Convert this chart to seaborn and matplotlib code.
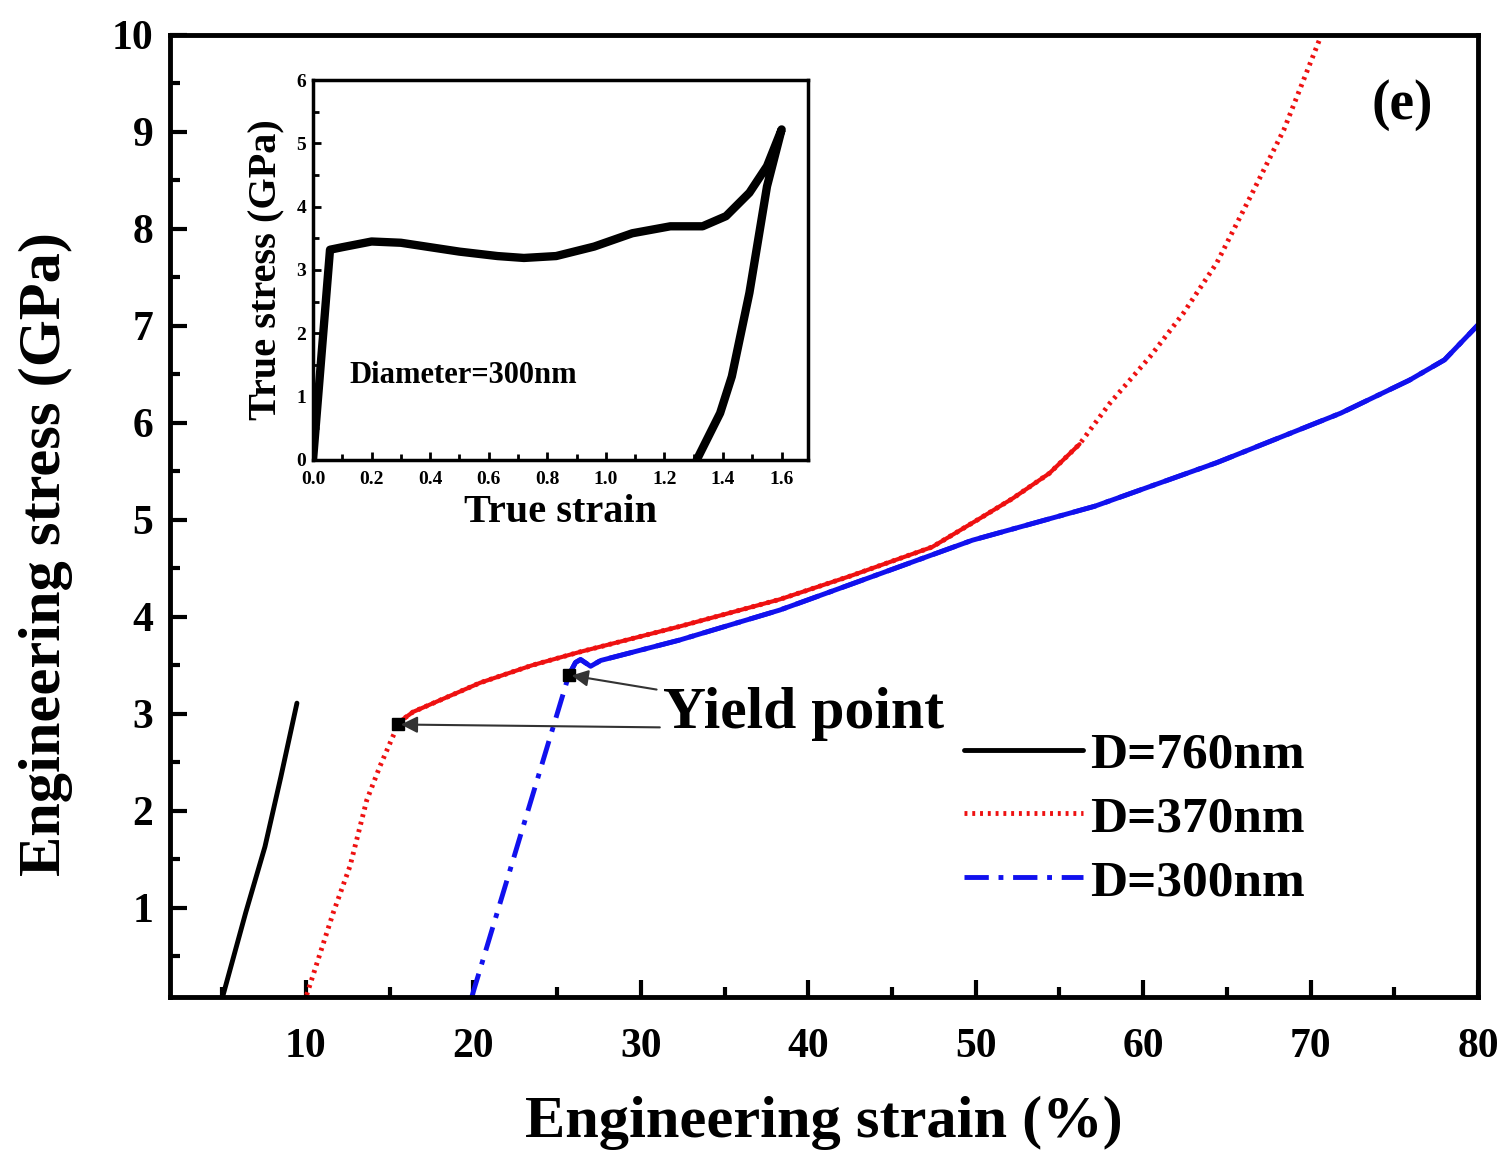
import numpy as np
import pandas as pd
import matplotlib
matplotlib.use("Agg")
import matplotlib.pyplot as plt
from matplotlib.ticker import MultipleLocator, FormatStrFormatter
import seaborn as sns

# ---- data ----
strain_760 = [5.05, 6.4, 7.55, 8.5, 9.46]
stress_760 = [0.10, 0.95, 1.63, 2.35, 3.11]

strain_370 = [10.04, 11.63, 12.63, 13.63, 14.42, 15.2, 15.6, 16.4, 17.6, 20.4, 23.5, 26.4,
              32.3, 38.3, 42.5, 47.4, 50.3, 52.2, 54.4, 56.2, 58.0, 60.4, 62.4, 64.4,
              66.4, 68.4, 70.6]
stress_370 = [0.10, 0.95, 1.43, 2.11, 2.46, 2.77, 2.92, 3.02, 3.11, 3.32, 3.50, 3.64,
              3.90, 4.18, 4.42, 4.72, 5.02, 5.22, 5.48, 5.78, 6.20, 6.68, 7.13, 7.65,
              8.33, 9.02, 9.98]

strain_300 = [19.9, 24.6, 25.7, 26.1, 26.4, 27.0, 27.6, 32.3, 38.3, 43.9, 49.8, 57.1,
              64.4, 71.8, 75.9, 78.0, 80.0]
stress_300 = [0.08, 2.77, 3.40, 3.53, 3.56, 3.49, 3.55, 3.76, 4.07, 4.42, 4.79, 5.14,
              5.59, 6.10, 6.44, 6.65, 7.01]

true_strain = [0.0, 0.058, 0.1, 0.2, 0.3, 0.5, 0.63, 0.72, 0.83, 0.96, 1.09, 1.22, 1.33, 1.41,
               1.49, 1.55, 1.6, 1.55, 1.49, 1.43, 1.39, 1.35, 1.31]
true_stress = [0.0, 3.32, 3.36, 3.45, 3.43, 3.29, 3.22, 3.19, 3.22, 3.37, 3.58, 3.69, 3.69, 3.85,
               4.22, 4.64, 5.22, 4.32, 2.64, 1.32, 0.74, 0.37, 0.0]

labels = ["D=760nm", "D=370nm", "D=300nm"]
yield_strain = [15.5, 25.7]
yield_stress = [2.89, 3.40]

sns.set_style("ticks")
plt.rcParams["font.family"] = ["Liberation Serif", "DejaVu Serif"]
plt.rcParams["font.weight"] = "bold"
plt.rcParams["axes.labelweight"] = "bold"
for k in ["text.color", "axes.labelcolor", "xtick.color", "ytick.color", "axes.edgecolor"]:
    plt.rcParams[k] = "black"

fig = plt.figure(figsize=(15.1, 11.65), dpi=100)
ax = fig.add_axes([0.1126, 0.1442, 0.8662, 0.8258])

df760 = pd.DataFrame({"x": strain_760, "y": stress_760})
df370 = pd.DataFrame({"x": strain_370, "y": stress_370})
df300 = pd.DataFrame({"x": strain_300, "y": stress_300})

RED = "#ee1111"
BLUE = "#1111ee"
kw = dict(estimator=None, sort=False, ax=ax)
sns.lineplot(data=df760, x="x", y="y", color="black", lw=3.5, linestyle="-",
             label=labels[0], **kw)
sns.lineplot(data=df370, x="x", y="y", color=RED, lw=3.5,
             linestyle=(0, (0.6, 1.0)), label=labels[1], **kw)
sns.lineplot(data=df300, x="x", y="y", color=BLUE, lw=3.5,
             linestyle=(0, (5, 2, 1, 2)), label=labels[2], **kw)
# dense noisy plastic part of the original data renders as solid
sns.lineplot(data=df370[(df370.x >= 15.6) & (df370.x <= 56.2)], x="x", y="y", color=RED,
             lw=3.0, legend=False, **kw)
sns.lineplot(data=df300[df300.x >= 25.7], x="x", y="y", color=BLUE, lw=3.5,
             legend=False, **kw)

ax.plot(yield_strain, yield_stress, linestyle="none", marker="s", ms=9, color="black")

ax.set_xlim(1.88, 80)
ax.set_ylim(0.08, 10)
ax.set_xticks([10, 20, 30, 40, 50, 60, 70, 80])
ax.set_yticks([1, 2, 3, 4, 5, 6, 7, 8, 9, 10])
ax.xaxis.set_minor_locator(MultipleLocator(5))
ax.yaxis.set_minor_locator(MultipleLocator(0.5))
ax.tick_params(which="both", direction="in", width=3, labelsize=30)
ax.tick_params(axis="x", pad=22)
ax.tick_params(axis="y", pad=12)
ax.tick_params(which="major", length=12)
ax.tick_params(which="minor", length=7)
for lab in ax.get_xticklabels() + ax.get_yticklabels():
    lab.set_fontweight("bold")
for sp in ax.spines.values():
    sp.set_linewidth(3.5)
ax.set_xlabel("Engineering strain (%)", fontsize=43.5, fontweight="bold", labelpad=22)
ax.set_ylabel("Engineering stress (GPa)", fontsize=43.5, fontweight="bold")
ax.yaxis.set_label_coords(-0.074, 0.46)

ax.text(0.942, 0.927, "(e)", transform=ax.transAxes, fontsize=40, fontweight="bold",
        ha="center", va="center")

ax.annotate("Yield point", xy=(yield_strain[1], yield_stress[1]), xytext=(31.3, 3.0),
            fontsize=43, fontweight="bold", va="center", ha="left",
            arrowprops=dict(arrowstyle="-|>", color="#333333", lw=1.5, mutation_scale=25))
ax.annotate("", xy=(yield_strain[0], yield_stress[0]), xytext=(31.3, 2.86),
            arrowprops=dict(arrowstyle="-|>", color="#333333", lw=1.5, mutation_scale=25))

leg = ax.legend(loc="upper left", bbox_to_anchor=(0.572, 0.324), frameon=False,
                prop={"family": "Liberation Serif", "weight": "bold", "size": 37},
                handlelength=2.3, handletextpad=0.15, labelspacing=0.33)

# ---- inset ----
axi = fig.add_axes([0.2073, 0.6052, 0.3278, 0.3261])
dfi = pd.DataFrame({"x": true_strain, "y": true_stress})
sns.lineplot(data=dfi, x="x", y="y", ax=axi, color="black", lw=6, sort=False, estimator=None)
axi.set_xlim(0, 1.69)
axi.set_ylim(0, 6)
axi.xaxis.set_major_locator(MultipleLocator(0.2))
axi.xaxis.set_minor_locator(MultipleLocator(0.1))
axi.yaxis.set_major_locator(MultipleLocator(1))
axi.yaxis.set_minor_locator(MultipleLocator(0.5))
axi.tick_params(which="both", direction="in", width=2, labelsize=14)
axi.tick_params(axis="x", pad=8)
axi.tick_params(axis="y", pad=5)
axi.tick_params(which="major", length=6)
axi.tick_params(which="minor", length=4)
axi.xaxis.set_major_formatter(FormatStrFormatter("%.1f"))
for lab in axi.get_xticklabels() + axi.get_yticklabels():
    lab.set_fontweight("bold")
for sp in axi.spines.values():
    sp.set_linewidth(2.5)
axi.set_xlabel("True strain", fontsize=29, fontweight="bold", labelpad=4)
axi.set_ylabel("True stress (GPa)", fontsize=29, fontweight="bold", labelpad=8)
axi.text(0.126, 1.33, "Diameter=300nm", fontsize=22, fontweight="bold", ha="left", va="center")

fig.savefig("out.png", dpi=100)
